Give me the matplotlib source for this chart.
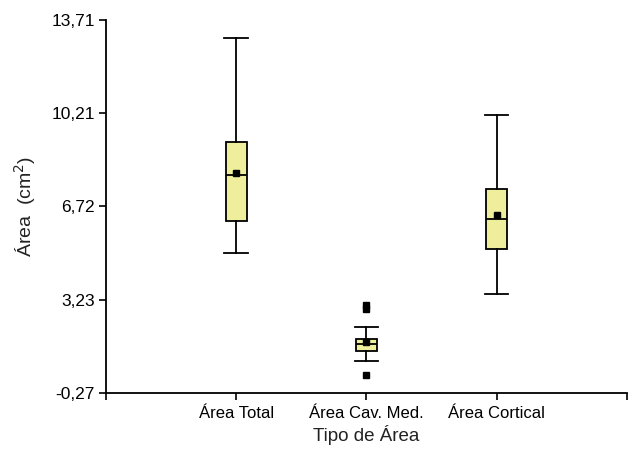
import matplotlib
matplotlib.use("Agg")
import matplotlib.pyplot as plt

plt.rcParams['font.family'] = ['Liberation Sans', 'DejaVu Sans']

categories = ['Área Total', 'Área Cav. Med.', 'Área Cortical']
whisker_low = [4.97, 0.94, 3.44]
q1 = [6.19, 1.30, 5.13]
medians = [7.90, 1.57, 6.26]
q3 = [9.13, 1.74, 7.38]
whisker_high = [13.02, 2.19, 10.15]
means = [7.99, 1.65, 6.40]
outliers = [[], [3.03, 2.86, 0.39], []]
yticks = [-0.27, 3.23, 6.72, 10.21, 13.71]
ytick_labels = ['-0,27', '3,23', '6,72', '10,21', '13,71']

fig = plt.figure(figsize=(6.28, 4.51), dpi=100)
ax = fig.add_axes([0.1688, 0.1286, 0.8292, 0.8271])

positions = [1, 2, 3]
stats = []
for i in range(3):
    stats.append(dict(med=medians[i], q1=q1[i], q3=q3[i],
                      whislo=whisker_low[i], whishi=whisker_high[i],
                      mean=means[i], fliers=outliers[i], label=categories[i]))

ax.bxp(stats, positions=positions, widths=0.16, showmeans=True, patch_artist=True,
       showcaps=True, capwidths=0.18,
       boxprops=dict(facecolor='#EEEE9C', edgecolor='black', linewidth=1.3),
       medianprops=dict(color='black', linewidth=1.3),
       whiskerprops=dict(color='black', linewidth=1.3),
       capprops=dict(color='black', linewidth=1.3),
       meanprops=dict(marker='s', markerfacecolor='black', markeredgecolor='black', markersize=5),
       flierprops=dict(marker='s', markerfacecolor='black', markeredgecolor='black', markersize=4.5))

ax.set_xlim(0, 4)
ax.set_ylim(-0.27, 13.71)
ax.set_xticks([0, 1, 2, 3, 4])
ax.set_xticklabels([''] + categories + [''])
ax.set_yticks(yticks)
ax.set_yticklabels(ytick_labels)
ax.spines['top'].set_visible(False)
ax.spines['right'].set_visible(False)
for s in ['left', 'bottom']:
    ax.spines[s].set_linewidth(1.3)
ax.tick_params(axis='x', direction='out', length=5, width=1.2, labelsize=12, pad=4)
ax.tick_params(axis='y', direction='out', length=5, width=1.2, labelsize=12.5, pad=3)
ax.set_xlabel('Tipo de Área', fontsize=13.5, color='#222222', labelpad=3)
ax.set_ylabel('Área  (cm$^2$)', fontsize=14, labelpad=10, color='#222222')
ax.spines['left'].set_bounds(-0.27, 13.71)

fig.savefig('out.png', dpi=100)
